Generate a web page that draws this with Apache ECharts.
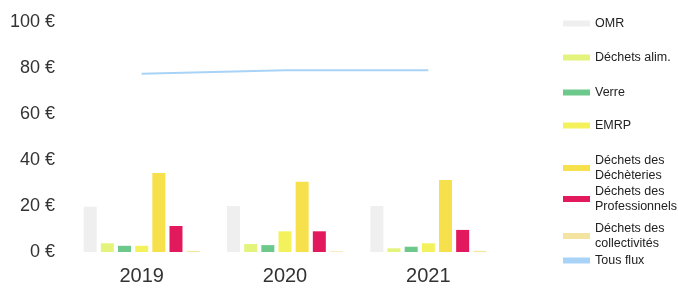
<!DOCTYPE html>
<html>
<head>
<meta charset="utf-8">
<script src="https://cdn.jsdelivr.net/npm/echarts@6/dist/echarts.min.js"></script>
<style>
  html, body { margin: 0; padding: 0; background: #fff; }
  #chart { width: 678px; height: 291px; }
</style>
</head>
<body>
<div id="chart"></div>
<script>
// données (€ / hab.)
const years = ['2019', '2020', '2021']
const omr = [19.7, 20, 20]
const dechetsAlim = [3.8, 3.5, 1.6]
const verre = [2.7, 3, 2.3]
const emrp = [2.7, 9, 3.8]
const decheteries = [34.3, 30.5, 31.3]
const professionnels = [11.3, 9, 9.6]
const collectivites = [0.5, 0.3, 0.5]
const tousFlux = [77.5, 79, 79]

const chart = echarts.init(document.getElementById('chart'))

const barSeries = [
  { name: 'OMR', data: omr, color: '#efefef' },
  { name: 'Déchets alim.', data: dechetsAlim, color: '#e4f37c' },
  { name: 'Verre', data: verre, color: '#6dc98b' },
  { name: 'EMRP', data: emrp, color: '#f4f25c' },
  { name: 'Déchets des Déchèteries', data: decheteries, color: '#f6e04c' },
  { name: 'Déchets des Professionnels', data: professionnels, color: '#e2195c' },
  { name: 'Déchets des collectivités', data: collectivites, color: '#f3e4a2' }
]

let series = barSeries.map(s => ({
  name: s.name,
  type: 'bar',
  data: s.data,
  itemStyle: { color: s.color },
  barWidth: 13,
  barGap: '32%'
}))

series.push({
  name: 'Tous flux',
  type: 'line',
  data: tousFlux,
  symbol: 'none',
  itemStyle: { color: '#a8d3f6' },
  lineStyle: { color: '#a8d3f6', width: 2 }
})

// une légende par entrée pour garder l'espacement du modèle
const legendTops = [16, 50, 85, 118, 153, 184, 221, 253]
const legends = series.map((s, i) => ({
  orient: 'vertical',
  left: 563,
  top: legendTops[i],
  padding: 0,
  itemWidth: 27,
  itemHeight: 6,
  itemGap: 4,
  icon: 'rect',
  textStyle: { fontSize: 12.5, color: '#222', width: 82, overflow: 'break', lineHeight: 15 },
  data: [s.name]
}))

chart.setOption({
  animation: false,
  textStyle: { fontFamily: 'Liberation Sans, Arial, sans-serif' },
  grid: { left: 70, right: 178, top: 22, bottom: 39 },
  xAxis: {
    type: 'category',
    data: years,
    axisLine: { show: false },
    axisTick: { show: false },
    axisLabel: { fontSize: 20, color: '#333', margin: 14 }
  },
  yAxis: {
    type: 'value',
    min: 0,
    max: 100,
    interval: 20,
    splitLine: { show: false },
    axisLabel: { fontSize: 18, color: '#333', formatter: '{value} €', margin: 15 }
  },
  legend: legends,
  series: series
})
</script>
</body>
</html>
